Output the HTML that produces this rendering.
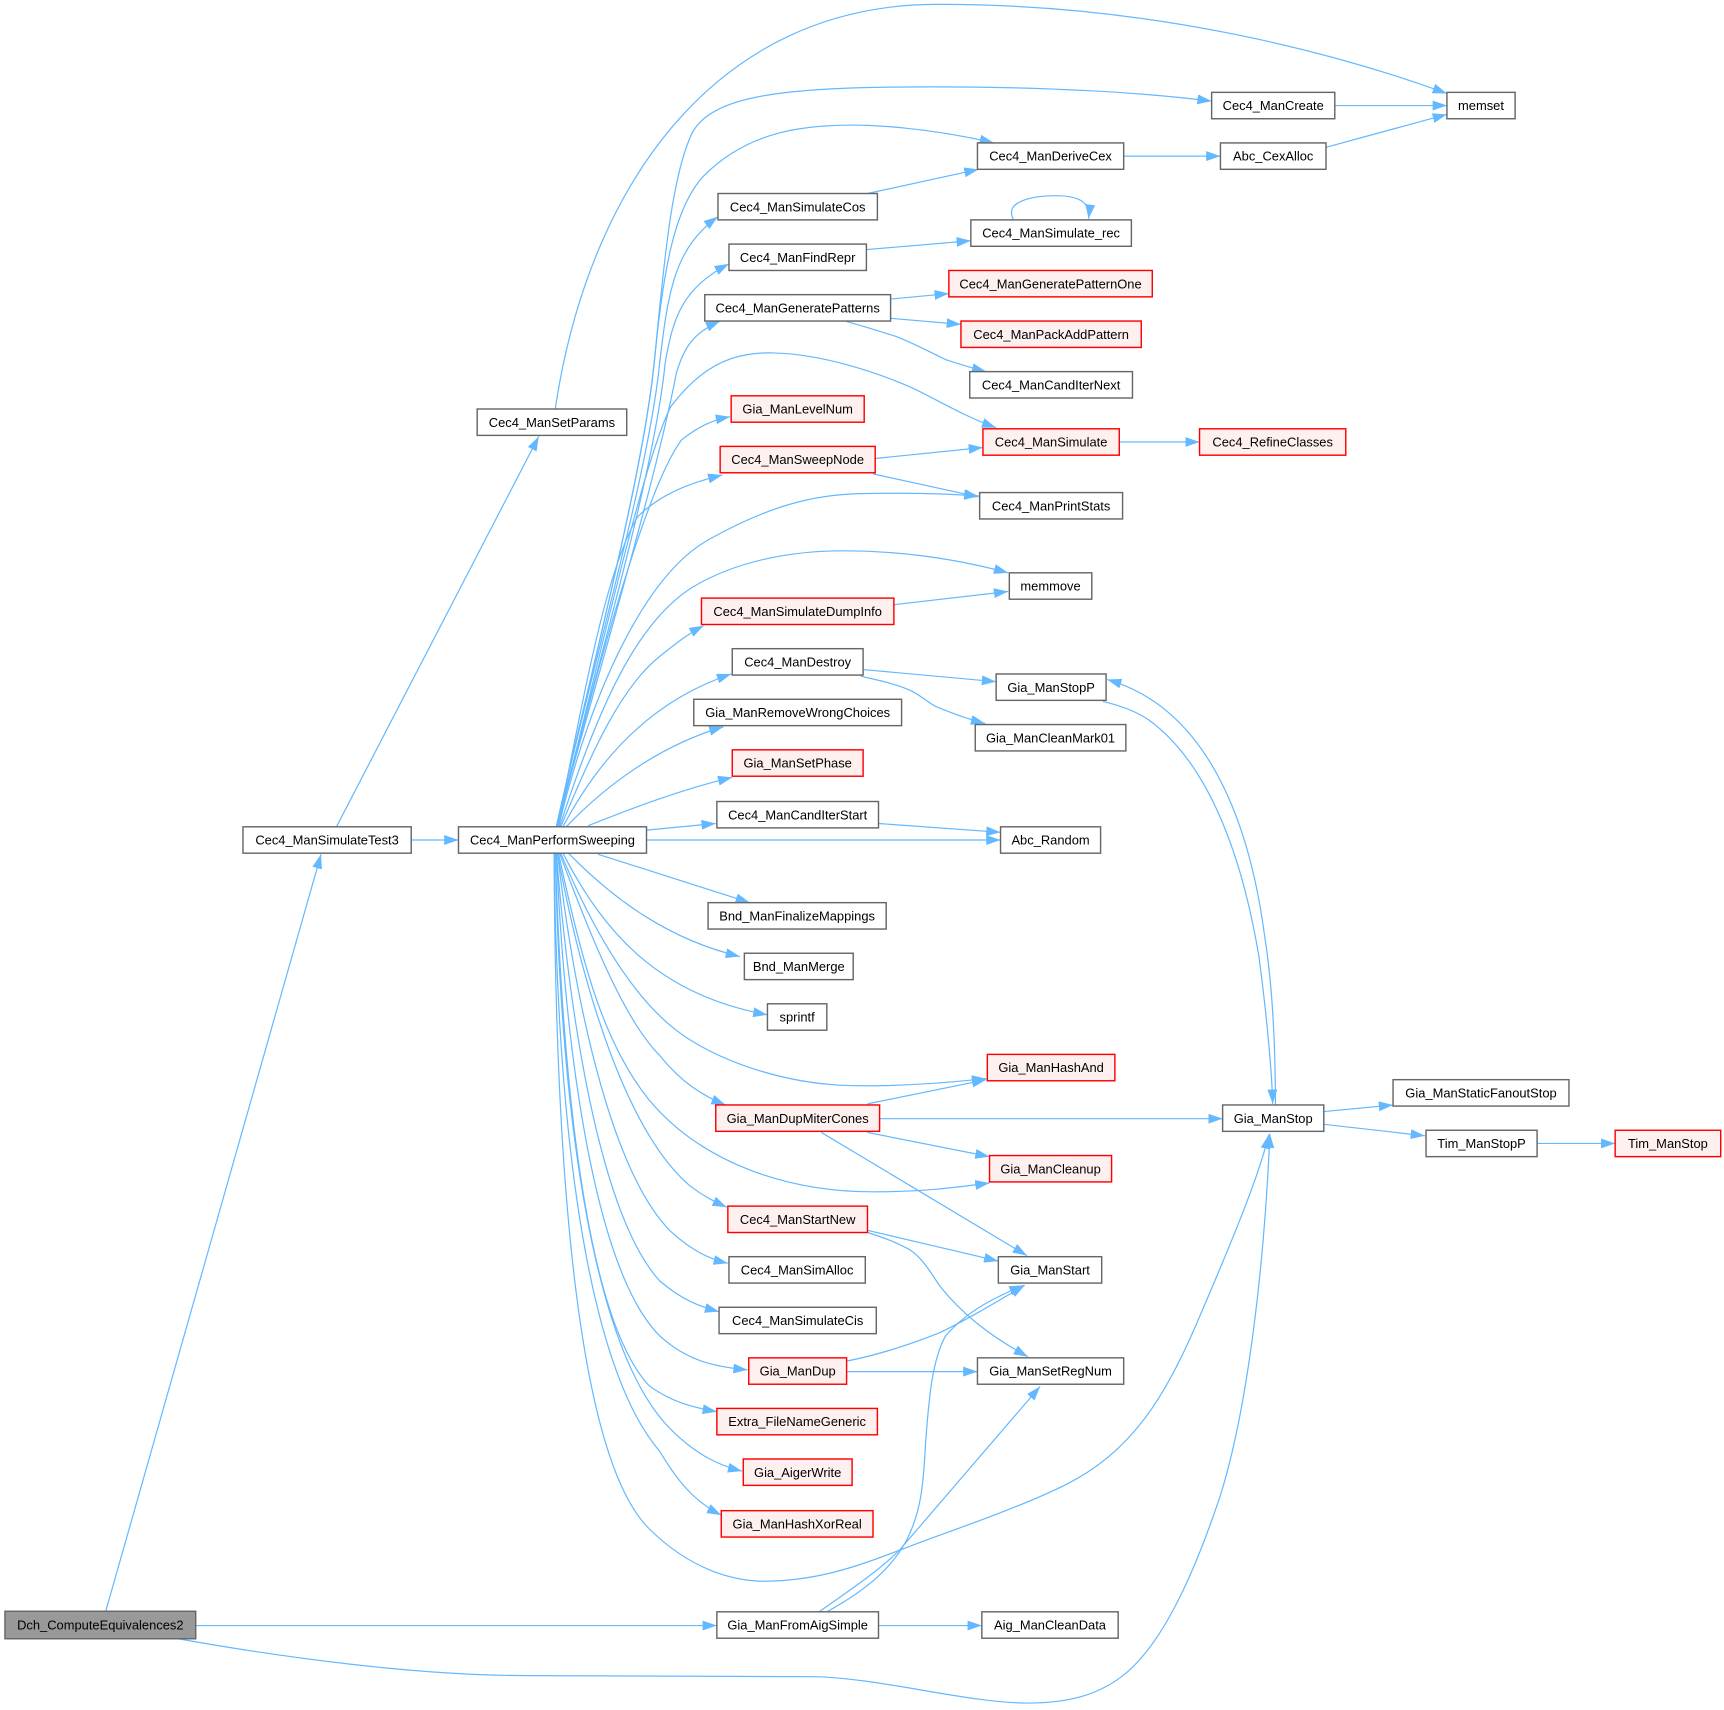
<!DOCTYPE html>
<html>
<head>
<meta charset="utf-8">
<style>
html,body{margin:0;padding:0;background:#fff;}
svg{display:block;}
text{font-family:"Liberation Sans",Arial,sans-serif;font-size:11.75px;fill:#000;text-anchor:middle;}
.e{fill:none;stroke:#63B8FF;stroke-width:1.1;marker-end:url(#ah);}
.n{fill:#fff;stroke:#666;stroke-width:1.3;}
.r{fill:#FFF0F0;stroke:#FF0000;stroke-width:1.3;}
.g{fill:#999;stroke:#666;stroke-width:1.3;}
</style>
</head>
<body>
<svg width="1724" height="1710" viewBox="0 0 1568 1555.3" preserveAspectRatio="none" xmlns="http://www.w3.org/2000/svg">
<defs>
<marker id="ah" markerWidth="13" markerHeight="9" refX="13" refY="4.5" orient="auto" markerUnits="userSpaceOnUse">
<path d="M0,0 L13,4.5 L0,9 z" fill="#63B8FF"/>
</marker>
</defs>
<rect x="0" y="0" width="1568" height="1555.3" fill="#fff"/>

<!-- edges -->
<path class="e" d="M96,1466 L292,777"/>
<path class="e" d="M178,1478.5 L652,1478.5"/>
<path class="e" d="M162,1490.5 C260,1508 380,1524 480,1524 L740,1525 C800,1526 880,1549 935,1549 C975,1549 1000,1540 1020,1525 C1060,1495 1090,1420 1110,1360 C1135,1280 1150,1150 1155,1031"/>
<path class="e" d="M306,752 L490,397"/>
<path class="e" d="M374,764 L417,764"/>
<path class="e" d="M505,372 C535,170 650,5 850,4 C1050,3 1220,50 1316,85"/>
<path class="e" d="M1214,96 L1316,96"/>
<path class="e" d="M1206,134 L1316,104"/>
<path class="e" d="M1022,142 L1110,142"/>
<path class="e" d="M506,752 C540,600 585,430 595,330 C603,250 610,160 630,120 C650,85 720,79 850,79 C950,79 1040,84 1102,92"/>
<path class="e" d="M506,752 C540,600 585,430 595,330 C603,250 612,190 640,160 C680,120 730,112 790,114 C830,116 870,122 904,130"/>
<path class="e" d="M506,752 C540,600 590,430 600,330 C608,260 615,225 653,197"/>
<path class="e" d="M506,752 C545,600 595,430 605,330 C612,290 620,262 663,240"/>
<path class="e" d="M506,752 C548,600 598,430 615,340 C622,315 632,302 655,292"/>
<path class="e" d="M507,752 C550,580 585,420 610,370 C640,330 670,320 703,321 C750,322 800,340 828,352 C850,362 875,378 906,389"/>
<path class="e" d="M507,752 C550,580 590,440 620,400 C635,388 648,382 664,379"/>
<path class="e" d="M507,752 C530,640 550,520 580,470 C600,450 625,440 657,432"/>
<path class="e" d="M508,752 C540,620 590,520 646,490 C700,460 740,450 782,449 C830,448 860,449 890,451"/>
<path class="e" d="M794,431 L890,452"/>
<path class="e" d="M796,417 L894,407"/>
<path class="e" d="M509,752 C545,640 580,565 630,534 C670,510 720,501 767,501 C830,501 880,511 917,521"/>
<path class="e" d="M510,752 C540,680 565,625 600,597 C615,585 625,577 640,569"/>
<path class="e" d="M813,550 L917,538"/>
<path class="e" d="M512,752 C550,680 600,635 665,613"/>
<path class="e" d="M785,609 L906,620"/>
<path class="e" d="M783,615 C800,619 815,622 828,628 C840,634 845,640 852,643 C870,650 880,654 896,658"/>
<path class="e" d="M515,752 C560,705 610,675 658,661"/>
<path class="e" d="M535,751 C575,735 620,718 666,707"/>
<path class="e" d="M588,755 L651,749"/>
<path class="e" d="M799,749 L910,757"/>
<path class="e" d="M588,764 L910,764"/>
<path class="e" d="M544,777 L682,821"/>
<path class="e" d="M517,776 C560,820 610,855 673,870"/>
<path class="e" d="M512,776 C550,850 600,905 698,923"/>
<path class="e" d="M510,776 C545,860 585,920 628,946 C660,966 710,984 764,987 C810,989 860,985 897,981"/>
<path class="e" d="M509,776 C540,860 570,930 600,960 C620,985 640,997 660,1005"/>
<path class="e" d="M508,776 C530,880 550,950 590,1000 C640,1060 720,1084 794,1084 C840,1084 870,1080 900,1076"/>
<path class="e" d="M507,776 C530,900 570,1030 628,1079 C640,1088 650,1093 661,1098"/>
<path class="e" d="M507,776 C525,930 560,1070 610,1120 C630,1138 645,1145 662,1149"/>
<path class="e" d="M506,776 C520,950 550,1110 600,1165 C620,1182 635,1188 654,1193"/>
<path class="e" d="M506,776 C515,980 545,1160 600,1215 C625,1238 650,1243 680,1246"/>
<path class="e" d="M505,776 C512,1000 535,1200 590,1260 C610,1275 630,1280 652,1284"/>
<path class="e" d="M505,776 C510,1020 540,1230 610,1300 C630,1320 650,1332 675,1338"/>
<path class="e" d="M504,776 C507,1060 540,1250 600,1320 C615,1345 630,1365 656,1378"/>
<path class="e" d="M504,776 C505,1100 530,1330 590,1390 C625,1425 665,1440 703,1438 C760,1436 800,1416 850,1398 C900,1380 940,1365 970,1350 C1030,1320 1060,1270 1090,1200 C1120,1130 1145,1070 1154,1032"/>
<path class="e" d="M1003,638 C1020,642 1035,648 1045,655 C1100,695 1130,780 1145,870 C1153,930 1157,980 1157.5,1004"/>
<path class="e" d="M1160,1005 C1160,960 1158,900 1150,850 C1138,760 1110,690 1065,650 C1048,635 1030,625 1007,618"/>
<path class="e" d="M1204,1011 L1267,1005"/>
<path class="e" d="M1204,1022.6 L1296,1033"/>
<path class="e" d="M1398,1040 L1469,1040"/>
<path class="e" d="M1018,402 L1091,402"/>
<path class="e" d="M789,176 L890,154"/>
<path class="e" d="M788,227 L883,219"/>
<path class="e" d="M922,200 C912,183 940,178 960,178 C980,178 992,183 990,199"/>
<path class="e" d="M810,272 L863,267"/>
<path class="e" d="M810,289.5 L874,295"/>
<path class="e" d="M770,292.5 C790,298 805,303 815,306 C835,314 845,320 860,327 C875,332 885,335 897,338"/>
<path class="e" d="M789,1004 L897,982"/>
<path class="e" d="M800,1017.5 L1112,1017.5"/>
<path class="e" d="M789,1030 L900,1052"/>
<path class="e" d="M747,1030 L934,1142"/>
<path class="e" d="M789,1119 L908,1147"/>
<path class="e" d="M789,1121 C805,1126 815,1130 828,1137 C840,1145 848,1160 855,1170 C875,1195 900,1215 935,1234"/>
<path class="e" d="M770,1238 C800,1232 830,1222 855,1212 C880,1200 905,1185 932,1169"/>
<path class="e" d="M770,1247.5 L889,1247.5"/>
<path class="e" d="M752,1466 C790,1445 812,1425 825,1400 C840,1370 840,1340 842,1310 C845,1270 848,1237 860,1215 C880,1192 905,1180 931,1169"/>
<path class="e" d="M745,1466 C775,1445 800,1428 818,1410 L946,1261"/>
<path class="e" d="M799,1478.5 L893,1478.5"/>

<!-- nodes -->
<rect class="g" x="4.5" y="1465.5" width="173.5" height="25"/><text x="91.25" y="1482.2">Dch_ComputeEquivalences2</text>
<rect class="n" x="221" y="752" width="153" height="24"/><text x="297.5" y="768.2">Cec4_ManSimulateTest3</text>
<rect class="n" x="417" y="752" width="171" height="24"/><text x="502.5" y="768.2">Cec4_ManPerformSweeping</text>
<rect class="n" x="434" y="372" width="136" height="24"/><text x="502" y="388.2">Cec4_ManSetParams</text>
<rect class="n" x="1316" y="84" width="62" height="24"/><text x="1347" y="100.2">memset</text>
<rect class="n" x="1102" y="84" width="112" height="24"/><text x="1158" y="100.2">Cec4_ManCreate</text>
<rect class="n" x="889" y="130" width="133" height="24"/><text x="955.5" y="146.2">Cec4_ManDeriveCex</text>
<rect class="n" x="1110" y="130" width="96" height="24"/><text x="1158" y="146.2">Abc_CexAlloc</text>
<rect class="n" x="653" y="176" width="145" height="24"/><text x="725.5" y="192.2">Cec4_ManSimulateCos</text>
<rect class="n" x="883" y="200" width="146" height="24"/><text x="956" y="216.2">Cec4_ManSimulate_rec</text>
<rect class="n" x="663" y="222" width="125" height="24"/><text x="725.5" y="238.2">Cec4_ManFindRepr</text>
<rect class="n" x="641" y="268" width="169" height="24"/><text x="725.5" y="284.2">Cec4_ManGeneratePatterns</text>
<rect class="r" x="863" y="246" width="185" height="24"/><text x="955.5" y="262.2">Cec4_ManGeneratePatternOne</text>
<rect class="r" x="874" y="292" width="164" height="24"/><text x="956" y="308.2">Cec4_ManPackAddPattern</text>
<rect class="n" x="882" y="338" width="148" height="24"/><text x="956" y="354.2">Cec4_ManCandIterNext</text>
<rect class="r" x="665" y="360" width="121" height="24"/><text x="725.5" y="376.2">Gia_ManLevelNum</text>
<rect class="r" x="655" y="406" width="141" height="24"/><text x="725.5" y="422.2">Cec4_ManSweepNode</text>
<rect class="r" x="894" y="390" width="124" height="24"/><text x="956" y="406.2">Cec4_ManSimulate</text>
<rect class="r" x="1091" y="390" width="133" height="24"/><text x="1157.5" y="406.2">Cec4_RefineClasses</text>
<rect class="n" x="891" y="448" width="130" height="24"/><text x="956" y="464.2">Cec4_ManPrintStats</text>
<rect class="n" x="918" y="521" width="75" height="24"/><text x="955.5" y="537.2">memmove</text>
<rect class="r" x="638" y="544" width="175" height="24"/><text x="725.5" y="560.2">Cec4_ManSimulateDumpInfo</text>
<rect class="n" x="666" y="590" width="119" height="24"/><text x="725.5" y="606.2">Cec4_ManDestroy</text>
<rect class="n" x="906" y="613" width="100" height="24"/><text x="956" y="629.2">Gia_ManStopP</text>
<rect class="n" x="887" y="659" width="137" height="24"/><text x="955.5" y="675.2">Gia_ManCleanMark01</text>
<rect class="n" x="631" y="636" width="189" height="24"/><text x="725.5" y="652.2">Gia_ManRemoveWrongChoices</text>
<rect class="r" x="666" y="682" width="119" height="24"/><text x="725.5" y="698.2">Gia_ManSetPhase</text>
<rect class="n" x="652" y="729" width="147" height="24"/><text x="725.5" y="745.2">Cec4_ManCandIterStart</text>
<rect class="n" x="910" y="752" width="91" height="24"/><text x="955.5" y="768.2">Abc_Random</text>
<rect class="n" x="644" y="821" width="162" height="24"/><text x="725" y="837.2">Bnd_ManFinalizeMappings</text>
<rect class="n" x="677" y="867" width="99" height="24"/><text x="726.5" y="883.2">Bnd_ManMerge</text>
<rect class="n" x="698" y="913" width="54" height="24"/><text x="725" y="929.2">sprintf</text>
<rect class="r" x="898" y="959" width="116" height="24"/><text x="956" y="975.2">Gia_ManHashAnd</text>
<rect class="r" x="651" y="1005" width="149" height="24"/><text x="725.5" y="1021.2">Gia_ManDupMiterCones</text>
<rect class="n" x="1112" y="1005" width="92" height="24"/><text x="1158" y="1021.2">Gia_ManStop</text>
<rect class="n" x="1267" y="982" width="160" height="24"/><text x="1347" y="998.2">Gia_ManStaticFanoutStop</text>
<rect class="n" x="1297" y="1028" width="101" height="24"/><text x="1347.5" y="1044.2">Tim_ManStopP</text>
<rect class="r" x="1469" y="1028" width="96" height="24"/><text x="1517" y="1044.2">Tim_ManStop</text>
<rect class="r" x="900" y="1051" width="111" height="24"/><text x="955.5" y="1067.2">Gia_ManCleanup</text>
<rect class="r" x="662" y="1097" width="127" height="24"/><text x="725.5" y="1113.2">Cec4_ManStartNew</text>
<rect class="n" x="908" y="1143" width="94" height="24"/><text x="955" y="1159.2">Gia_ManStart</text>
<rect class="n" x="663" y="1143" width="124" height="24"/><text x="725" y="1159.2">Cec4_ManSimAlloc</text>
<rect class="n" x="654" y="1189" width="143" height="24"/><text x="725.5" y="1205.2">Cec4_ManSimulateCis</text>
<rect class="r" x="681" y="1235" width="89" height="24"/><text x="725.5" y="1251.2">Gia_ManDup</text>
<rect class="n" x="889" y="1235" width="133" height="24"/><text x="955.5" y="1251.2">Gia_ManSetRegNum</text>
<rect class="r" x="652" y="1281" width="146" height="24"/><text x="725" y="1297.2">Extra_FileNameGeneric</text>
<rect class="r" x="676" y="1327" width="99" height="24"/><text x="725.5" y="1343.2">Gia_AigerWrite</text>
<rect class="r" x="656" y="1374" width="138" height="24"/><text x="725" y="1390.2">Gia_ManHashXorReal</text>
<rect class="n" x="652" y="1466" width="147" height="24"/><text x="725.5" y="1482.2">Gia_ManFromAigSimple</text>
<rect class="n" x="893" y="1466" width="124" height="24"/><text x="955" y="1482.2">Aig_ManCleanData</text>
</svg>
</body>
</html>
